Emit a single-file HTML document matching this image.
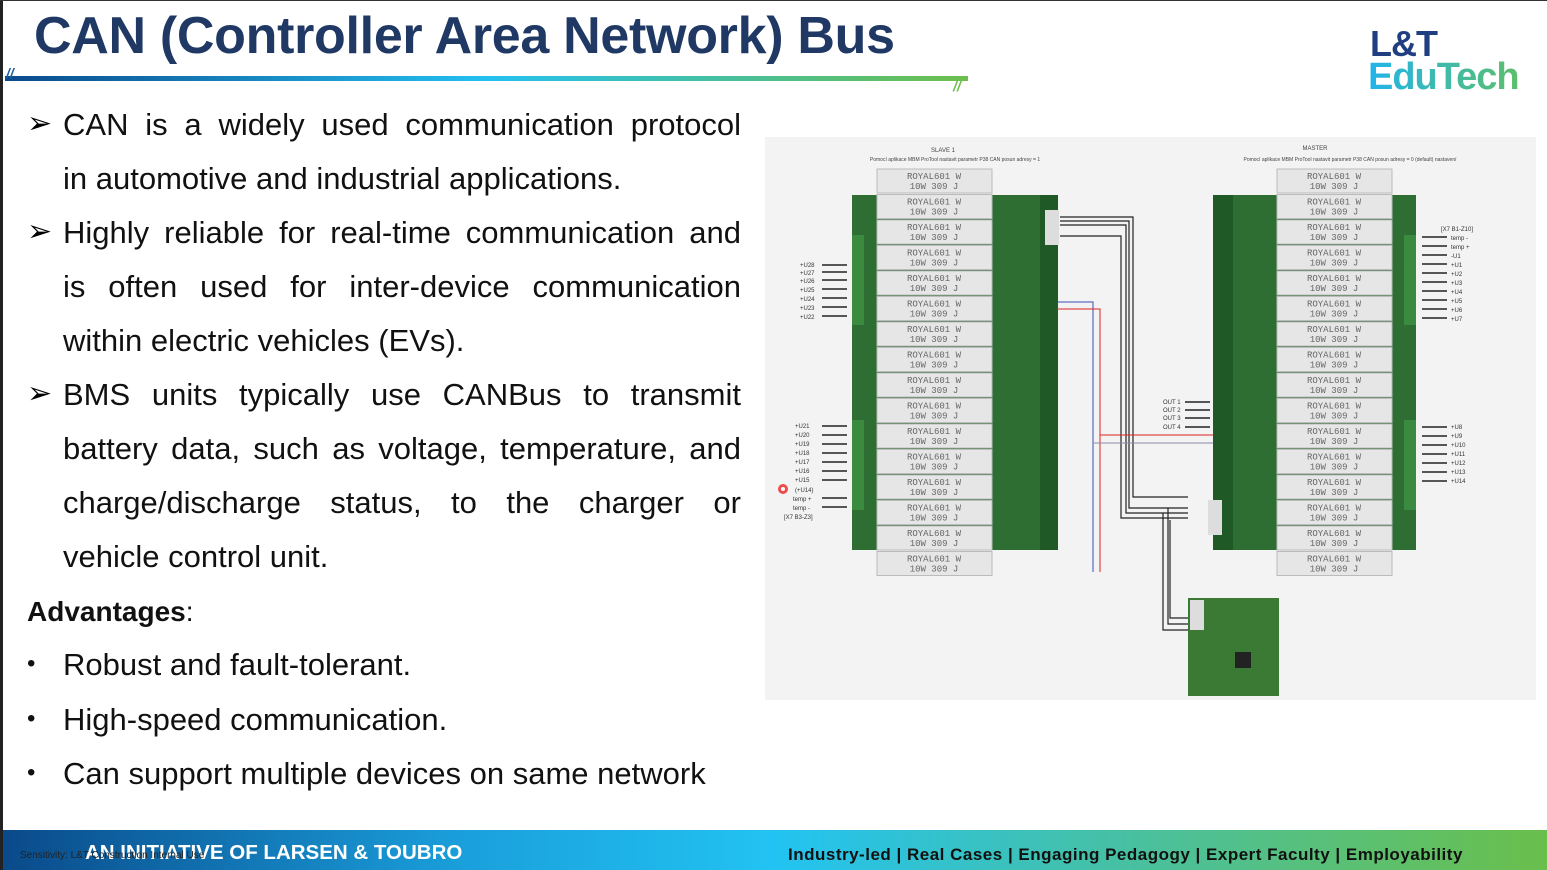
<!DOCTYPE html>
<html><head><meta charset="utf-8"><style>
body{margin:0;width:1547px;height:870px;overflow:hidden;background:#fff;position:relative;font-family:"Liberation Sans",Arial,sans-serif;}
.abs{position:absolute}
.ln{position:absolute;left:63px;width:678px;font-size:31px;line-height:36px;color:#111;white-space:nowrap}
.j{text-align:justify;text-align-last:justify}
.ar{position:absolute;left:27px;font-size:30px;color:#000}
.dot{position:absolute;left:27px;font-size:24px;color:#111}
</style></head><body>
<div class="abs" style="left:0;top:0;width:3px;height:870px;background:#222"></div>
<div class="abs" style="left:0;top:0;width:1547px;height:1px;background:#333"></div>
<div class="abs" style="left:34px;top:6px;font-size:52px;font-weight:bold;color:#1f3864;letter-spacing:-0.3px">CAN (Controller Area Network) Bus</div>
<div class="abs" style="left:5px;top:76px;width:963px;height:5px;background:linear-gradient(90deg,#0b4a8c,#23c0f0 50%,#6cbf4b)"></div>
<div class="abs" style="left:6px;top:65px;font-size:14px;color:#1f5fa0;font-style:italic;font-weight:bold">//</div>
<div class="abs" style="left:953px;top:78px;font-size:14px;color:#6cbf4b;font-style:italic;font-weight:bold">//</div>
<div class="abs" style="left:1370px;top:24px;font-size:36px;font-weight:bold;color:#1f3f80;line-height:40px;letter-spacing:-1px">L&amp;T</div>
<div class="abs" style="left:1368px;top:56px;font-size:38px;font-weight:bold;line-height:42px;letter-spacing:-1px;background:linear-gradient(90deg,#23b4ea,#5cbf6a);-webkit-background-clip:text;color:transparent">EduTech</div>

<div class="ar" style="top:106px">➢</div>
<div class="ln j" style="top:107px">CAN is a widely used communication protocol</div>
<div class="ln" style="top:161px">in automotive and industrial applications.</div>
<div class="ar" style="top:214px">➢</div>
<div class="ln j" style="top:215px">Highly reliable for real-time communication and</div>
<div class="ln j" style="top:269px">is often used for inter-device communication</div>
<div class="ln" style="top:323px">within electric vehicles (EVs).</div>
<div class="ar" style="top:376px">➢</div>
<div class="ln j" style="top:377px">BMS units typically use CANBus to transmit</div>
<div class="ln j" style="top:431px">battery data, such as voltage, temperature, and</div>
<div class="ln j" style="top:485px">charge/discharge status, to the charger or</div>
<div class="ln" style="top:539px">vehicle control unit.</div>
<div class="abs" style="left:27px;top:596px;font-size:28px;color:#111"><b>Advantages</b>:</div>
<div class="dot" style="top:650px">•</div><div class="ln" style="top:647px">Robust and fault-tolerant.</div>
<div class="dot" style="top:705px">•</div><div class="ln" style="top:702px">High-speed communication.</div>
<div class="dot" style="top:759px">•</div><div class="ln" style="top:756px">Can support multiple devices on same network</div>

<svg class="abs" style="left:765px;top:137px" width="771" height="563" viewBox="765 137 771 563">
<defs>
<g id="r"><rect x="0" y="0" width="115" height="24" fill="#e6e6e6" stroke="#bbb"/><text x="57" y="10" font-size="9" text-anchor="middle" fill="#666" font-family="Liberation Mono">ROYAL601 W</text><text x="57" y="20" font-size="9" text-anchor="middle" fill="#666" font-family="Liberation Mono">10W 309 J</text></g>
</defs>
<rect x="765" y="137" width="771" height="563" fill="#f3f3f3"/>
<text x="943" y="152" font-size="6" text-anchor="middle" fill="#444">SLAVE 1</text>
<text x="955" y="161" font-size="5" text-anchor="middle" fill="#444">Pomocí aplikace MBM ProTool nastavit parametr P38 CAN posun adresy = 1</text>
<text x="1315" y="150" font-size="6" text-anchor="middle" fill="#444">MASTER</text>
<text x="1350" y="161" font-size="5" text-anchor="middle" fill="#444">Pomocí aplikace MBM ProTool nastavit parametr P38 CAN posun adresy = 0 (default) nastavení</text>
<rect x="852" y="195" width="206" height="355" fill="#2e6e33"/>
<rect x="1040" y="195" width="18" height="355" fill="#1f5a26"/>
<rect x="1213" y="195" width="203" height="355" fill="#2e6e33"/>
<rect x="1213" y="195" width="20" height="355" fill="#1f5a26"/>
<rect x="852" y="235" width="12" height="90" fill="#3a8a40"/><rect x="852" y="420" width="12" height="90" fill="#3a8a40"/>
<rect x="1404" y="235" width="12" height="90" fill="#3a8a40"/><rect x="1404" y="420" width="12" height="90" fill="#3a8a40"/>
<g>
<use href="#r" x="877" y="169"/><use href="#r" x="877" y="194.5"/><use href="#r" x="877" y="220"/><use href="#r" x="877" y="245.5"/><use href="#r" x="877" y="271"/><use href="#r" x="877" y="296.5"/><use href="#r" x="877" y="322"/><use href="#r" x="877" y="347.5"/><use href="#r" x="877" y="373"/><use href="#r" x="877" y="398.5"/><use href="#r" x="877" y="424"/><use href="#r" x="877" y="449.5"/><use href="#r" x="877" y="475"/><use href="#r" x="877" y="500.5"/><use href="#r" x="877" y="526"/><use href="#r" x="877" y="551.5"/>
<use href="#r" x="1277" y="169"/><use href="#r" x="1277" y="194.5"/><use href="#r" x="1277" y="220"/><use href="#r" x="1277" y="245.5"/><use href="#r" x="1277" y="271"/><use href="#r" x="1277" y="296.5"/><use href="#r" x="1277" y="322"/><use href="#r" x="1277" y="347.5"/><use href="#r" x="1277" y="373"/><use href="#r" x="1277" y="398.5"/><use href="#r" x="1277" y="424"/><use href="#r" x="1277" y="449.5"/><use href="#r" x="1277" y="475"/><use href="#r" x="1277" y="500.5"/><use href="#r" x="1277" y="526"/><use href="#r" x="1277" y="551.5"/>
</g>
<rect x="1045" y="210" width="14" height="35" fill="#ddd"/><rect x="1208" y="500" width="14" height="35" fill="#ddd"/>
<g stroke="#222" stroke-width="1.2" fill="none">
<path d="M1060 217H1133V497H1188"/><path d="M1060 221H1129V508H1188"/><path d="M1060 225H1126V513H1188"/><path d="M1060 236H1121V518H1188"/>
<path d="M1163 513V630H1188"/><path d="M1168 508V624H1188"/><path d="M1170 520V618H1188"/>
</g>
<path d="M1057 302H1093V572" stroke="#3b4db0" fill="none"/><path d="M1057 309H1100V572" stroke="#d22" fill="none"/>
<path d="M1100 435H1213" stroke="#d22"/><path d="M1093 443H1213" stroke="#88a"/>
<g stroke="#222" stroke-width="1.5">
<path d="M822 265h25M822 272h25M822 280h25M822 289h25M822 298h25M822 307h25M822 316h25"/>
<path d="M822 426h25M822 435h25M822 444h25M822 453h25M822 462h25M822 471h25M822 480h25M822 498h25M822 507h25"/>
<path d="M1185 402h25M1185 410h25M1185 418h25M1185 427h25"/>
<path d="M1422 237h25M1422 246h25M1422 255h25M1422 264h25M1422 273h25M1422 282h25M1422 291h25M1422 300h25M1422 309h25M1422 318h25"/>
<path d="M1422 427h25M1422 436h25M1422 445h25M1422 454h25M1422 463h25M1422 472h25M1422 481h25"/>
</g>
<g font-size="6" fill="#333">
<text x="800" y="267">+U28</text><text x="800" y="275">+U27</text><text x="800" y="283">+U26</text><text x="800" y="292">+U25</text><text x="800" y="301">+U24</text><text x="800" y="310">+U23</text><text x="800" y="319">+U22</text>
<text x="795" y="428">+U21</text><text x="795" y="437">+U20</text><text x="795" y="446">+U19</text><text x="795" y="455">+U18</text><text x="795" y="464">+U17</text><text x="795" y="473">+U16</text><text x="795" y="482">+U15</text><text x="795" y="492">(+U14)</text><text x="793" y="501">temp +</text><text x="793" y="510">temp -</text><text x="784" y="519">[X7 B3-Z3]</text>
<text x="1163" y="404">OUT 1</text><text x="1163" y="412">OUT 2</text><text x="1163" y="420">OUT 3</text><text x="1163" y="429">OUT 4</text>
<text x="1441" y="231">[X7 B1-Z10]</text>
<text x="1451" y="240">temp -</text><text x="1451" y="249">temp +</text><text x="1451" y="258">-U1</text><text x="1451" y="267">+U1</text><text x="1451" y="276">+U2</text><text x="1451" y="285">+U3</text><text x="1451" y="294">+U4</text><text x="1451" y="303">+U5</text><text x="1451" y="312">+U6</text><text x="1451" y="321">+U7</text>
<text x="1451" y="429">+U8</text><text x="1451" y="438">+U9</text><text x="1451" y="447">+U10</text><text x="1451" y="456">+U11</text><text x="1451" y="465">+U12</text><text x="1451" y="474">+U13</text><text x="1451" y="483">+U14</text>
</g>
<rect x="1188" y="598" width="91" height="98" fill="#3b7a35"/>
<rect x="1190" y="600" width="14" height="30" fill="#ddd"/>
<rect x="1235" y="652" width="16" height="16" fill="#222"/>
<circle cx="783" cy="489" r="5" fill="#e22" opacity="0.8"/><circle cx="783" cy="489" r="2" fill="#fff"/>
</svg>

<div class="abs" style="left:3px;top:830px;width:1544px;height:40px;background:linear-gradient(90deg,#0a4a8a,#1aa0dc 30%,#22c3f2 50%,#4bc09a 75%,#6abf4b)"></div>
<div class="abs" style="left:85px;top:841px;font-size:20.5px;font-weight:bold;color:#fff">AN INITIATIVE OF LARSEN &amp; TOUBRO</div>
<div class="abs" style="left:20px;top:850px;font-size:10px;color:#222">Sensitivity: L&amp;T Construction Internal Use</div>
<div class="abs" style="left:788px;top:845px;font-size:17px;font-weight:bold;color:#111;letter-spacing:0.5px">Industry-led | Real Cases | Engaging Pedagogy | Expert Faculty | Employability</div>
</body></html>
